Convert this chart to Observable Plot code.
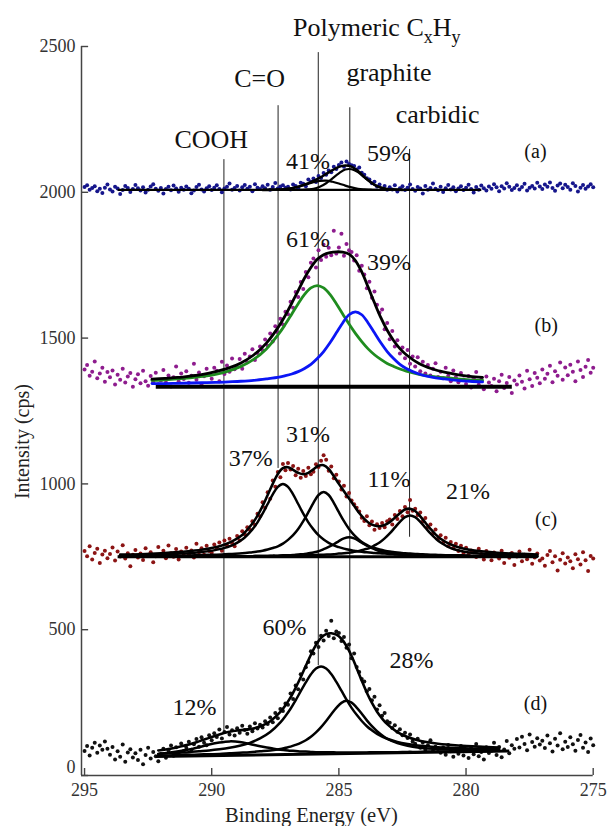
<!DOCTYPE html>
<html><head><meta charset="utf-8">
<script src="https://cdn.jsdelivr.net/npm/d3@7"></script>
<script src="https://cdn.jsdelivr.net/npm/@observablehq/plot@0.6"></script>
<style>
body{margin:0;background:#fff}
#chart svg{display:block}
#chart svg, #chart svg text, #chart svg tspan{font-family:"Liberation Serif","Times New Roman",serif !important}
</style>
</head><body><div id="chart"></div>
<script>
// measured spectra: binding energy grid 295.0 -> 275.0 eV, 0.1 eV step
const energyStart = 295.0, energyStep = 0.1;
const countsA = [2018,2024,2009,2015,2021,2004,2012,1998,2016,2027, 2010,2003,2019,2013,1994,2008,2022,2015,2001,2011,
 2025,2014,2006,2017,1999,2009,2020,2028,2012,2005, 2015,1996,2011,2019,2007,2023,2013,2002,2016,2009,
 2020,2012,1997,2006,2018,2026,2010,2003,2014,2021, 2008,2016,2024,2011,2000,2013,2019,2030,2009,2015,
 2022,2006,2017,2025,2012,2019,2004,2028,2016,2011, 2021,2014,2026,2009,2018,2032,2013,2020,2024,2016,
 2019,2010,2027,2022,2014,2033,2029,2021,2044,2036, 2047,2035,2056,2049,2066,2060,2075,2069,2088,2080,
 2094,2102,2088,2106,2097,2093,2090,2078,2085,2067, 2060,2048,2044,2031,2036,2020,2027,2012,2022,2009,
 2017,2010,2024,2003,2014,2021,2008,2016,2027,2011, 2005,2018,2013,1996,2022,2009,2015,2030,2012,2007,
 2019,2001,2014,2025,2010,2017,2004,2013,2021,2008, 2016,2026,2011,1999,2018,2009,2023,2014,2006,2020,
 2012,2028,2017,2004,2021,2013,2031,2019,2008,2015, 2024,2010,2018,2029,2006,2016,2022,2013,2033,2020,
 2011,2027,2019,2034,2015,2005,2023,2030,2014,2026, 2018,2009,2031,2022,2003,2016,2025,2012,2020,2028, 2017];
const countsB = [1392,1408,1371,1385,1420,1362,1379,1398,1350,1384, 1366,1389,1341,1374,1357,1395,1348,1368,1380,1333,
 1359,1376,1345,1388,1352,1337,1370,1349,1381,1342, 1355,1391,1348,1372,1334,1366,1403,1351,1379,1360,
 1386,1347,1371,1412,1357,1382,1340,1369,1395,1374, 1361,1398,1388,1352,1419,1377,1406,1385,1430,1393,
 1401,1428,1395,1446,1417,1437,1462,1425,1449,1471, 1458,1495,1474,1516,1488,1541,1519,1566,1547,1590,
 1582,1625,1604,1658,1641,1692,1668,1727,1709,1758, 1773,1742,1801,1768,1820,1779,1810,1784,1868,1790,
 1811,1858,1782,1823,1801,1795,1766,1784,1731,1748, 1718,1671,1693,1638,1660,1614,1587,1598,1530,1552,
 1496,1524,1471,1493,1447,1468,1431,1459,1412,1437, 1403,1434,1386,1419,1379,1408,1372,1395,1414,1367,
 1385,1362,1398,1371,1352,1389,1366,1349,1380,1358, 1343,1370,1331,1362,1384,1340,1357,1325,1368,1348,
 1336,1361,1318,1352,1374,1329,1346,1367,1312,1355, 1341,1372,1350,1327,1388,1359,1336,1380,1364,1345,
 1392,1361,1378,1405,1349,1386,1371,1416,1357,1399, 1373,1409,1385,1352,1420,1391,1367,1402,1425,1381, 1398];
const countsC = [770,752,786,741,763,778,729,758,771,745, 760,782,737,768,751,790,744,762,718,757,
 773,748,761,739,779,755,766,731,752,784, 758,771,745,789,762,750,777,741,768,756,
 781,759,772,748,795,766,779,757,788,770, 764,792,781,799,771,806,790,812,797,786,
 821,806,838,827,851,843,872,860,898,889, 937,918,971,949,1012,990,1041,1023,1068,1047,
 1072,1049,1061,1030,1052,1021,1044,1027,1055,1033, 1042,1067,1058,1079,1098,1083,1045,1060,1019,1031,
 1008,981,994,957,969,943,930,918,905,884, 873,889,858,871,843,862,849,866,851,872,
 878,861,893,880,907,889,921,903,945,908, 915,893,902,871,883,852,861,830,844,812,
 824,798,815,786,801,779,795,770,788,763, 781,757,772,766,749,778,760,741,770,755,
 738,765,752,744,771,729,758,747,763,722, 751,768,735,757,742,774,726,748,761,737,
 744,719,756,770,731,752,703,740,762,727, 748,735,711,759,742,724,766,738,701,753, 744];
const countsD = [84,101,69,95,112,78,103,88,117,92, 71,98,55,83,64,106,47,79,90,62,
 76,53,88,39,70,95,58,81,66,49, 74,92,61,86,103,68,97,79,110,84,
 95,116,88,107,125,99,131,112,104,138, 121,145,132,158,127,149,166,141,155,137,
 162,147,171,156,143,168,152,179,161,174, 165,186,177,199,183,214,196,228,221,247,
 243,281,262,309,296,347,329,371,389,426, 418,455,441,479,463,496,478,531,471,494,
 489,461,475,438,449,402,418,372,355,331, 322,289,297,258,270,226,241,205,214,186,
 181,163,172,150,159,138,147,129,141,117, 109,126,95,113,88,104,121,84,99,91,
 78,96,71,105,83,64,92,75,101,69, 87,60,94,73,108,66,81,55,97,77,
 85,112,70,98,63,89,118,76,104,92, 125,96,133,108,87,141,115,99,128,106,
 119,94,137,111,82,126,103,145,90,116, 98,131,107,85,122,139,95,113,81,127, 104];

// fitted curves (a)
const fitAx = [288,287.75,287.5,287.25,287,286.75,286.5,286.25,286,285.75,285.5,285.25,285,284.75,284.5,284.25,284,283.75,283.5,283.25,283,282.75,282.5];
const fitAenv = [2008,2008,2009,2010,2012,2016,2022,2030,2039,2050,2063,2076,2087,2092,2088,2073,2053,2035,2021,2014,2010,2009,2008];
const fitA41 = [2008,2008,2009,2010,2012,2016,2021,2028,2035,2039,2040,2036,2030,2023,2017,2012,2010,2009,2008,2008,2008,2008,2008];
const fitA59 = [2008,2008,2008,2008,2008,2008,2008,2010,2012,2019,2031,2048,2065,2078,2079,2069,2051,2034,2021,2014,2010,2009,2008];
// fitted curves (b)
const fitBx = [292.35,291.85,291.35,290.85,290.35,289.85,289.35,288.85,288.35,287.85,287.35,287.1,286.85,286.6,286.35,286.1,285.85,285.6,285.35,285.1,284.85,284.6,284.35,284.1,283.85,283.6,283.35,283.1,282.85,282.6,282.35,281.85,281.35,280.85,280.35,279.85,279.35];
const fitBenv = [1359,1362,1365,1370,1376,1385,1397,1415,1442,1483,1542,1579,1620,1663,1706,1742,1770,1786,1793,1796,1795,1788,1766,1727,1675,1621,1570,1527,1492,1464,1443,1413,1395,1383,1375,1369,1365];
const fitBgreen = [1355,1357,1360,1364,1369,1376,1387,1403,1427,1463,1516,1548,1583,1618,1650,1672,1680,1672,1650,1618,1583,1548,1516,1488,1463,1443,1427,1413,1403,1394,1387,1376,1369,1364,1360,1357,1355];
const fitBblue = [1344,1344,1345,1346,1347,1348,1350,1352,1355,1360,1366,1371,1377,1385,1396,1410,1430,1454,1484,1518,1552,1580,1590,1580,1552,1518,1484,1454,1430,1410,1396,1377,1366,1360,1355,1352,1350];
// fitted curves (c)
const fitCx = [293.6,292.8,292.0,291.2,290.4,289.6,289.2,288.8,288.4,288.2,288.0,287.8,287.6,287.4,287.2,287.0,286.8,286.6,286.4,286.2,286.0,285.8,285.6,285.4,285.2,285.0,284.8,284.6,284.4,284.2,284.0,283.8,283.6,283.4,283.2,283.0,282.8,282.6,282.4,282.2,282.0,281.8,281.6,281.4,281.2,281.0,280.6,280.2,279.8,279.4,278.6,277.8,277.2];
const fitCenv = [758,759,762,767,774,789,803,825,864,891,924,962,1000,1034,1054,1057,1048,1038,1033,1038,1050,1062,1064,1051,1027,1000,975,950,925,900,880,865,857,855,859,869,884,899,912,915,907,889,867,846,827,812,792,780,773,769,763,760,758];
const fitCco = [754,756,758,761,766,778,789,809,844,868,898,931,964,990,1000,990,964,931,898,868,844,824,809,798,789,783,778,774,771,768,766,765,763,762,761,760,759,758,758,757,757,756,756,755,755,755,754,754,753,753,752,752,752];
const fitCpoly = [752,753,753,754,756,758,760,762,766,768,771,775,780,786,795,808,824,845,872,903,935,962,972,962,935,903,872,845,824,808,795,786,780,775,771,768,766,764,762,761,760,759,758,757,757,756,755,755,754,754,753,752,752];
const fitCgraph = [750,751,751,751,751,751,752,752,752,753,753,753,754,754,755,755,756,758,759,762,765,769,776,784,793,804,813,817,813,804,793,784,776,769,765,762,759,758,756,755,755,754,754,753,753,753,752,752,752,751,751,751,751];
const fitCcarb = [751,751,751,751,751,752,752,752,752,753,753,753,753,753,754,754,754,755,755,755,756,757,757,758,759,761,762,764,767,770,775,780,789,799,813,830,850,870,886,892,886,870,850,830,813,799,780,770,764,761,757,755,754];
// fitted curves (d)
const fitDx = [292.1,291.7,291.3,290.9,290.5,290.1,289.7,289.3,288.9,288.5,288.1,287.7,287.3,287.1,286.9,286.7,286.5,286.3,286.1,285.9,285.7,285.5,285.3,285.1,284.9,284.7,284.5,284.3,284.1,283.9,283.7,283.5,283.1,282.7,282.3,281.9,281.5,281.1,280.3,279.5,278.7];
const fitDenv = [86,91,98,106,117,129,141,150,155,159,168,186,218,241,268,301,337,376,414,448,472,485,488,483,469,444,410,368,325,284,249,219,176,149,132,121,114,109,103,99,96];
const fitD60 = [74,76,78,80,83,86,90,95,102,112,127,149,182,204,229,258,289,319,347,367,374,367,348,321,291,260,232,208,187,169,155,143,126,115,108,103,100,97,94,92,92];
const fitD28 = [68,69,70,71,72,73,74,76,78,80,83,86,91,95,99,105,112,121,133,148,166,187,210,232,249,256,250,233,212,189,169,152,126,111,102,96,93,91,89,88,88];
const fitD12 = [74,78,83,89,97,106,113,117,115,108,100,94,88,87,85,84,82,82,81,80,80,80,80,79,79,79,79,79,79,79,80,80,80,80,81,81,82,82,83,84,85];
// linear backgrounds
const baseX1 = [293.7, 292.2, 293.7, 292.2];
const baseX2 = [279.4, 278.2, 277.2, 278.3];
const baseY1 = [2008, 1333, 750, 65];
const baseY2 = [2008, 1333, 750, 84];
// peak assignment markers
const peakNames = ["COOH", "C=O", "Polymeric CxHy", "graphite", "carbidic"];
const peakE = [289.52, 287.39, 285.81, 284.57, 282.22];
const peakLineTop = [2112, 2297, 2479, 2290, 2147];
const peakLineBottom = [144, 1053, 377, 257, 817];
const peakLabelE = [290.02, 288.12, 283.51, 283.03, 281.12];
const peakLabelY = [2153, 2362, 2537, 2383, 2236];
// percentages
const pctText = ["41%","59%","61%","39%","31%","37%","11%","21%","60%","28%","12%"];
const pctE = [286.21, 283.03, 286.21, 283.03, 286.21, 288.47, 283.03, 279.92, 287.14, 282.14, 290.68];
const pctY = [2081, 2109, 1811, 1735, 1145, 1063, 989, 947, 483, 367, 206];
const panelText = ["(a)", "(b)", "(c)", "(d)"];
const panelE = [277.27, 276.85, 276.85, 277.27];
const panelY = [2119, 1520, 854, 223];
// axes
const xTicks = [295, 290, 285, 280, 275];
const yTicks = [0, 500, 1000, 1500, 2000, 2500];
const xDomain = [295.12, 275];

const energies = countsA.map((_, i) => +(energyStart - i * energyStep).toFixed(2));
const pts = arr => arr.map((y, i) => ({x: energies[i], y}));
const crv = (xs, ys) => xs.map((x, i) => ({x, y: ys[i]}));
const L = (xs, ys, stroke, w) => Plot.line(crv(xs, ys), {x: "x", y: "y", curve: "catmull-rom", stroke, strokeWidth: w});

const peaks = peakNames.map((n, i) => ({n, e: peakE[i], t: peakLineTop[i], b: peakLineBottom[i], le: peakLabelE[i], ly: peakLabelY[i]}));
const pcts = pctText.map((t, i) => ({t, x: pctE[i], y: pctY[i]}));
const panels = panelText.map((t, i) => ({t, x: panelE[i], y: panelY[i]}));
const bases = baseX1.map((x1, i) => ({x1, x2: baseX2[i], y1: baseY1[i], y2: baseY2[i], w: i === 1 ? 4 : (i === 0 ? 2.2 : 3)}));

const chart = Plot.plot({
  width: 614, height: 826,
  marginLeft: 81, marginRight: 21, marginTop: 46, marginBottom: 51,
  style: {fontFamily: "'Liberation Serif','Times New Roman',serif", fontSize: "18px", background: "#fff", color: "#333"},
  x: {domain: xDomain, range: [81, 592.7], axis: null},
  y: {domain: [0, 2500], range: [775, 46], axis: null},
  marks: [
    Plot.ruleX(peaks, {x: "e", y1: "b", y2: "t", stroke: "#222", strokeWidth: 1}),
    Plot.dot(pts(countsA), {x: "x", y: "y", r: 2, fill: "#16168c"}),
    Plot.dot(pts(countsB), {x: "x", y: "y", r: 2, fill: "#8e1c8e"}),
    Plot.dot(pts(countsC), {x: "x", y: "y", r: 2, fill: "#8c1414"}),
    Plot.dot(pts(countsD), {x: "x", y: "y", r: 2, fill: "#111"}),
    Plot.link(bases, {x1: "x1", x2: "x2", y1: "y1", y2: "y2", stroke: "#000", strokeWidth: d => d.w}),
    L(fitAx, fitA41, "#000", 2.2), L(fitAx, fitA59, "#000", 2.2), L(fitAx, fitAenv, "#000", 2.5),
    L(fitBx, fitBgreen, "#1f8c1f", 2.8), L(fitBx, fitBblue, "#0b16f5", 2.8), L(fitBx, fitBenv, "#000", 2.8),
    L(fitCx, fitCco, "#000", 2.5), L(fitCx, fitCpoly, "#000", 2.5), L(fitCx, fitCgraph, "#000", 2.5), L(fitCx, fitCcarb, "#000", 2.5), L(fitCx, fitCenv, "#000", 2.6),
    L(fitDx, fitD12, "#000", 2.5), L(fitDx, fitD28, "#000", 2.5), L(fitDx, fitD60, "#000", 2.5), L(fitDx, fitDenv, "#000", 2.6),
    // axis frame and inward ticks
    Plot.ruleX([xDomain[0]], {stroke: "#444", strokeWidth: 1.5}),
    Plot.ruleY([0], {x1: xDomain[0], x2: xDomain[1], stroke: "#444", strokeWidth: 1.5}),
    Plot.ruleY(yTicks, {x1: xDomain[0], x2: xDomain[0] - 0.28, stroke: "#444", strokeWidth: 1.4}),
    Plot.ruleX(xTicks, {y1: 0, y2: 24, stroke: "#444", strokeWidth: 1.4}),
    Plot.axisX({ticks: xTicks, tickSize: 0, tickPadding: 8, tickFormat: d => String(d), label: null, fontSize: 18, color: "#333"}),
    Plot.axisY({ticks: yTicks, tickSize: 0, tickPadding: 6, tickFormat: d => String(d), label: null, fontSize: 18, color: "#333"}),
    // annotations
    Plot.text(peaks, {x: "le", y: "ly", text: "n", fontSize: 26, textAnchor: "middle", lineAnchor: "bottom", fill: "#111"}),
    Plot.text(pcts, {x: "x", y: "y", text: "t", fontSize: 24, textAnchor: "middle", lineAnchor: "bottom", fill: "#111"}),
    Plot.text(panels, {x: "x", y: "y", text: "t", fontSize: 20, textAnchor: "middle", lineAnchor: "bottom", fill: "#111"}),
    Plot.text(["Binding Energy (eV)"], {x: 286.08, y: -158, text: d => d, fontSize: 20.5, textAnchor: "middle", lineAnchor: "bottom", fill: "#222"}),
    Plot.text(["Intensity (cps)"], {x: xDomain[0], y: 1145, dx: -59, text: d => d, rotate: -90, fontSize: 20, textAnchor: "middle", lineAnchor: "middle", fill: "#222"})
  ]
});
chart.setAttribute("font-family", "Liberation Serif, serif");
document.getElementById("chart").appendChild(chart);

// subscripts for C_x H_y
const NS = "http://www.w3.org/2000/svg";
chart.querySelectorAll("text").forEach(t => {
  if (t.textContent === "Polymeric CxHy") {
    t.textContent = "Polymeric C";
    const parts = [["x", 7, 18], ["H", -7, 26], ["y", 7, 18]];
    parts.forEach(([s, dy, fs]) => {
      const sp = document.createElementNS(NS, "tspan");
      sp.setAttribute("dy", dy);
      sp.setAttribute("font-size", fs);
      sp.textContent = s;
      t.appendChild(sp);
    });
  }
});
// the "0" tick label sits just above the corner
chart.querySelectorAll('[aria-label="y-axis tick label"] text').forEach(t => {
  if (t.textContent === "0") t.setAttribute("transform", (t.getAttribute("transform") || "") + " translate(0,-8)");
});
</script></body></html>
